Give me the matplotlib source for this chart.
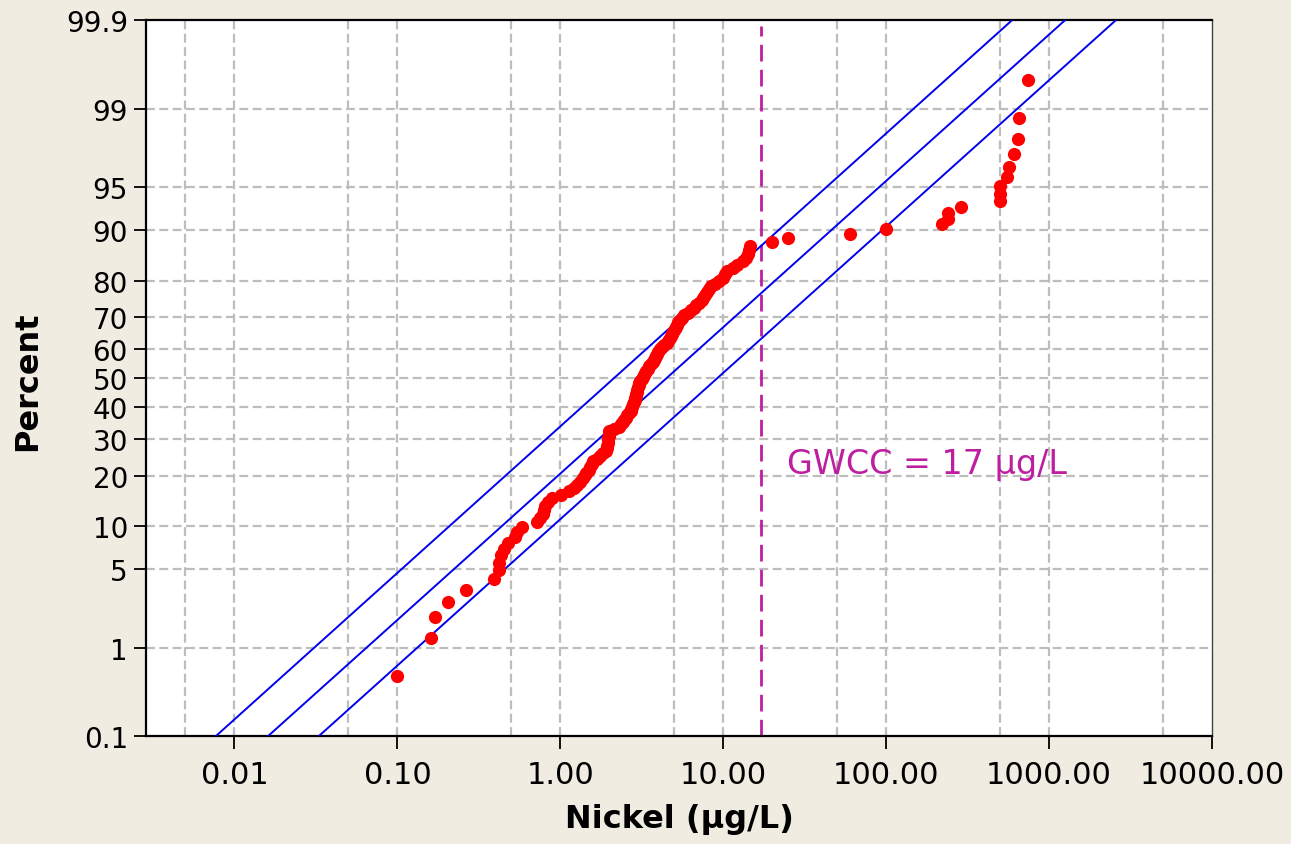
import matplotlib
matplotlib.use("Agg")
import matplotlib.pyplot as plt
from matplotlib.ticker import NullLocator
from statistics import NormalDist

# Nickel results (ug/L), sorted
nickel = [0.10, 0.16, 0.17, 0.205, 0.265, 0.39, 0.42, 0.42, 0.43, 0.45,
          0.48, 0.53, 0.54, 0.58, 0.72, 0.75, 0.78, 0.79, 0.81, 0.84,
          0.89, 1.01, 1.13, 1.22, 1.27, 1.33, 1.37, 1.41, 1.44, 1.49,
          1.53, 1.56, 1.59, 1.69, 1.76, 1.84, 1.90, 1.93, 1.94, 1.96,
          1.97, 1.97, 1.98, 1.99, 2.00, 2.14, 2.30, 2.37, 2.42, 2.47,
          2.53, 2.58, 2.65, 2.71, 2.73, 2.77, 2.81, 2.85, 2.87, 2.89,
          2.91, 2.93, 2.95, 2.97, 3.00, 3.02, 3.05, 3.10, 3.17, 3.21,
          3.25, 3.30, 3.37, 3.45, 3.52, 3.62, 3.73, 3.78, 3.81, 3.86,
          3.90, 3.97, 4.11, 4.23, 4.35, 4.51, 4.60, 4.70, 4.79, 4.88,
          4.95, 5.04, 5.12, 5.20, 5.30, 5.46, 5.61, 5.77, 6.06, 6.37,
          6.61, 6.85, 7.13, 7.36, 7.56, 7.78, 8.00, 8.23, 8.47, 8.88,
          9.48, 9.96, 10.3, 10.6, 11.5, 12.2, 13.2, 13.7, 14.1, 14.4,
          14.7, 20, 25, 60, 100, 220, 240, 240, 290, 500,
          500, 500, 550, 570, 610, 645, 650, 740]

# lognormal fit and its two bounding lines: value at 0.1 % and at 99.9 %
line_pct = [0.1, 99.9]
bound_left = [0.0077, 594]
fit_line = [0.0161, 1256]
bound_right = [0.033, 2576]

gwcc = 17

y_ticks = [0.1, 1, 5, 10, 20, 30, 40, 50, 60, 70, 80, 90, 95, 99, 99.9]
y_labels = ["0.1", "1", "5", "10", "20", "30", "40", "50", "60", "70",
            "80", "90", "95", "99", "99.9"]
x_ticks = [0.01, 0.1, 1, 10, 100, 1000, 10000]
x_labels = ["0.01", "0.10", "1.00", "10.00", "100.00", "1000.00", "10000.00"]
x_grid = [0.005, 0.01, 0.05, 0.1, 0.5, 1, 5, 10, 50, 100, 500, 1000, 5000]

nd = NormalDist()


def zscore(pct):
    return [nd.inv_cdf(p / 100.0) for p in pct]


# median-rank plotting positions, as on the original probability plot
n = len(nickel)
percent = [(i + 1 - 0.3) / (n + 0.4) * 100 for i in range(n)]

bg = "#F0ECE2"
magenta = "#BE1EA0"

fig = plt.figure(figsize=(12.91, 8.45), dpi=100, facecolor=bg)
ax = fig.add_axes([0.1131, 0.1278, 0.8257, 0.8473])
ax.set_facecolor("white")

ax.set_xscale("log")
ax.set_xlim(10 ** -2.543, 10000)
ax.set_ylim(nd.inv_cdf(0.001), nd.inv_cdf(0.999))

# grid
for gx in x_grid:
    ax.axvline(gx, color="#BDBDBD", lw=1.6, ls=(0, (4, 2)), zorder=1)
for gy in zscore(y_ticks[1:-1]):
    ax.axhline(gy, color="#BDBDBD", lw=1.6, ls=(0, (4, 2)), zorder=1)

# fitted line and bounds
for xs in (bound_left, fit_line, bound_right):
    ax.plot(xs, zscore(line_pct), color="#0000EE", lw=1.4, zorder=3)

# GWCC line
ax.plot([gwcc, gwcc], [nd.inv_cdf(0.001), nd.inv_cdf(0.9988)],
        color=magenta, lw=2, ls=(0, (6, 3)), zorder=2)
ax.text(0.601, 0.368, "GWCC = 17 µg/L", transform=ax.transAxes,
        color=magenta, fontsize=24, ha="left", va="baseline")

# data
ax.plot(nickel, zscore(percent), "o", color="red", markersize=9.5,
        markeredgewidth=0, zorder=4)

ax.set_xticks(x_ticks)
ax.set_xticklabels(x_labels, fontsize=22)
ax.xaxis.set_minor_locator(NullLocator())
ax.set_yticks(zscore(y_ticks))
ax.set_yticklabels(y_labels, fontsize=20)
ax.tick_params(axis="both", direction="out", length=9, width=1.3,
               color="black", labelcolor="black")
ax.tick_params(axis="x", pad=8)
ax.tick_params(axis="y", pad=4)

for side in ["left", "bottom", "top"]:
    ax.spines[side].set_linewidth(1.6)
    ax.spines[side].set_color("black")
ax.spines["right"].set_linewidth(1.0)
ax.spines["right"].set_color("#444444")

ax.set_xlabel("Nickel (µg/L)", fontsize=23, fontweight="bold", labelpad=10)
fig.text(0.0217, 0.549, "Percent", rotation=90, fontsize=23,
         fontweight="bold", ha="center", va="center")

fig.savefig("out.png", dpi=100, facecolor=bg)
